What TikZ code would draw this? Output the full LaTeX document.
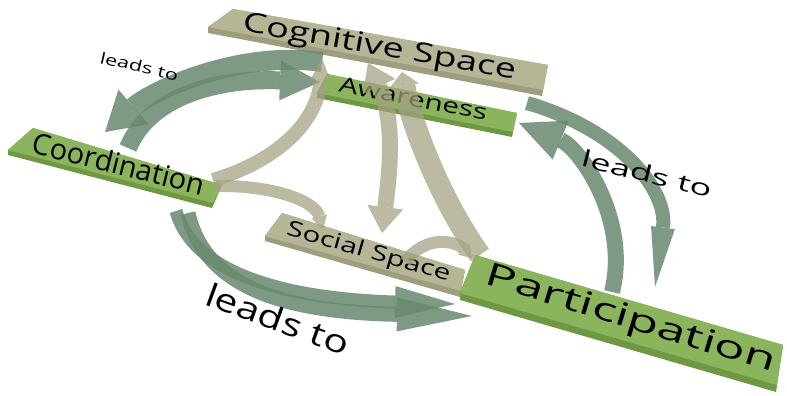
\documentclass[tikz,border=0pt]{standalone}
\usepackage{fontspec}
\setmainfont{Open Sans}
\newfontfamily\widesans[FakeStretch=1.40]{Open Sans}
\newfontfamily\widersans[FakeStretch=1.60]{Open Sans}
\newfontfamily\midsans[FakeStretch=1.28]{Open Sans}
\usetikzlibrary{arrows.meta}

\definecolor{khakitop}{RGB}{182,181,149}
\definecolor{khakiside}{RGB}{158,157,126}
\definecolor{greentop}{RGB}{138,181,92}
\definecolor{greenside}{RGB}{110,152,68}
\definecolor{leadgreen}{RGB}{104,136,110}
\definecolor{linkkhaki}{RGB}{163,160,128}

\newcommand{\planktext}[3]{{#1\fontsize{#2}{#2}\selectfont #3}}

\tikzset{
  leadarrow/.style={draw=leadgreen, opacity=0.85, line width=#1},
  linkarrow/.style={draw=linkkhaki, opacity=0.72, line width=#1},
  planklabel/.style={inner sep=0pt, anchor=base},
}

\begin{document}
\begin{tikzpicture}[x=1pt, y=-1pt]
        \useasboundingbox (0,0) rectangle (787,396);
        % planks
        \fill [khakiside] (233,9) -- (548,65) -- (542,96) -- (208,33) -- (208,27) -- cycle;      %Cognitive
        \fill [khakitop]  (233,9) -- (548,65) -- (543,90) -- (208,27) -- cycle;                  %
        \fill [greenside] (327,74) -- (517,113) -- (512,137) -- (317,98) -- (317,93) -- cycle;   %Awareness
        \fill [greentop]  (327,74) -- (517,113) -- (513,132) -- (317,93) -- cycle;               %
        \fill [greenside] (33,128) -- (222,185) -- (212,208) -- (8,155) -- (8,150) -- cycle;     %Coordination
        \fill [greentop]  (33,128) -- (222,185) -- (213,203) -- (8,150) -- cycle;                %
        \fill [khakiside] (282,213) -- (465,270) -- (460,297) -- (265,241) -- (265,236) -- cycle;%Social
        \fill [khakitop]  (282,213) -- (465,270) -- (461,291) -- (265,236) -- cycle;             %
        \fill [greenside] (475,255) -- (783,345) -- (776,392) -- (460,300) -- (460,293) -- cycle;%Participation
        \fill [greentop]  (475,255) -- (783,345) -- (777,385) -- (460,293) -- cycle;             %

        \node [planklabel, rotate=-10] (cog) at (378,55)  {\planktext{\widesans}{27}{Cognitive Space}};
        \node [planklabel, rotate=-11] (awa) at (412,106) {\planktext{\widesans}{21.3}{Awareness}};
        \node [planklabel, rotate=-14] (coo) at (116,174) {\planktext{\rmfamily}{29}{Coordination}};
        \node [planklabel, rotate=-16] (soc) at (367,258) {\planktext{\widesans}{21.2}{Social Space}};
        \node [planklabel, rotate=-17] (par) at (628,328) {\planktext{\widersans}{32}{Participation}};

        % arrow ends
        \coordinate (cog-w)   at (322,62);
        \coordinate (cog-sw)  at (322,58);
        \coordinate (cog-s)   at (368,63);
        \coordinate (cog-s2)  at (402,72);
        \coordinate (cog-e)   at (527,103);
        \coordinate (awa-w)   at (320,82);
        \coordinate (awa-e)   at (519,123);
        \coordinate (coo-n)   at (105,132);
        \coordinate (coo-ne)  at (128,148);
        \coordinate (coo-e)   at (213,180);
        \coordinate (coo-e2)  at (216,186);
        \coordinate (coo-s)   at (176,211);
        \coordinate (coo-s2)  at (188,213);
        \coordinate (soc-n)   at (323,230);
        \coordinate (soc-ne)  at (382,233);
        \coordinate (soc-e)   at (405,262);
        \coordinate (par-n)   at (655,287);
        \coordinate (par-nw)  at (612,292);
        \coordinate (par-nw2) at (480,255);
        \coordinate (par-w)   at (455,304);
        \coordinate (par-w2)  at (472,316);
        \coordinate (par-w3)  at (472,258);

        % leads to (green)
        \draw [leadarrow=20pt, -{Triangle[width=46pt,length=38pt,line width=0pt]}] (cog-w)  .. controls (240,50)  and (153,90)  .. (coo-n);  %
        \draw [leadarrow=18pt, -{Triangle[width=40pt,length=40pt,line width=0pt]}] (coo-ne) .. controls (150,95)  and (220,78)  .. (awa-w);  %
        \draw [leadarrow=14pt, -{Triangle[width=24pt,length=60pt,line width=0pt]}] (cog-e)  .. controls (620,130) and (668,190) .. (par-n);  %
        \draw [leadarrow=16pt, -{Triangle[width=42pt,length=45pt,line width=0pt]}] (par-nw) .. controls (630,220) and (580,148) .. (awa-e);  %
        \draw [leadarrow=13pt, -{Triangle[width=32pt,length=60pt,line width=0pt]}] (coo-s)  .. controls (192,268) and (270,298) .. (par-w);  %
        \draw [leadarrow=15pt, -{Triangle[width=34pt,length=75pt,line width=0pt]}] (coo-s2) .. controls (205,290) and (290,312) .. (par-w2); %

        % links (khaki)
        \draw [linkarrow=14pt, -{Triangle[width=20pt,length=22pt,line width=0pt]}] (coo-e)  .. controls (280,160) and (318,120) .. (cog-sw); %
        \draw [linkarrow=12pt, -{Triangle[width=16pt,length=14pt,line width=0pt]}] (coo-e2) .. controls (270,185) and (315,200) .. (soc-n);  %
        \draw [linkarrow=16pt, {Triangle[width=36pt,length=26pt,line width=0pt]}-{Triangle[width=36pt,length=26pt,line width=0pt]}]
              (cog-s) .. controls (395,120) and (390,170) .. (soc-ne);                                                                      %
        \draw [linkarrow=22pt, -{Triangle[width=30pt,length=14pt,line width=0pt]}] (par-nw2) .. controls (440,200) and (410,120) .. (cog-s2);%
        \draw [linkarrow=12pt, -{Triangle[width=16pt,length=12pt,line width=0pt]}] (soc-e)  .. controls (425,235) and (455,240) .. (par-w3); %

        \node [planklabel, rotate=-13] (lead1) at (138,72)  {\planktext{\widesans}{15.5}{leads to}};
        \node [planklabel, rotate=-14] (lead2) at (645,182) {\planktext{\widersans}{22.7}{leads to}};
        \node [planklabel, rotate=-20] (lead3) at (274,330) {\planktext{\midsans}{32}{leads to}};
\end{tikzpicture}
\end{document}
